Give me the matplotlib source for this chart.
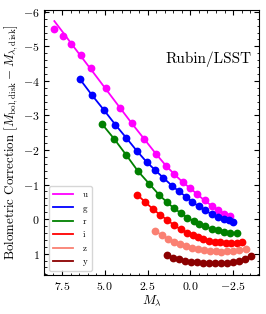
import numpy as np
import matplotlib
matplotlib.use("Agg")
import matplotlib.pyplot as plt
from matplotlib.ticker import MultipleLocator, AutoMinorLocator

plt.rcParams['font.family'] = 'serif'
plt.rcParams['font.serif'] = ['cmr10', 'DejaVu Serif']
plt.rcParams['mathtext.fontset'] = 'cm'
plt.rcParams['axes.formatter.use_mathtext'] = True
plt.rcParams['axes.unicode_minus'] = True

# Bolometric correction vs M_lambda for each Rubin/LSST band
u_mag = [7.95, 7.44, 6.96, 6.39, 5.79, 4.95, 4.11, 3.42, 2.70, 1.98, 1.43, 0.94, 0.45, 0.0,
         -0.40, -0.83, -1.26, -1.64, -1.99, -2.32]
u_bc = [-5.51, -5.30, -5.06, -4.75, -4.36, -3.78, -3.22, -2.78, -2.32, -1.87, -1.55, -1.30, -1.07,
        -0.89, -0.72, -0.54, -0.38, -0.25, -0.16, -0.09]
u_fit = [-5.73, -5.40, -5.08, -4.71, -4.32, -3.77, -3.22, -2.77, -2.32, -1.87, -1.55, -1.30, -1.07,
         -0.89, -0.72, -0.54, -0.38, -0.25, -0.16, -0.09]

g_mag = [6.47, 5.77, 5.04, 4.38, 3.76, 3.12, 2.55, 2.06, 1.57, 1.08, 0.66, 0.26, -0.12, -0.48,
         -0.87, -1.26, -1.62, -1.95, -2.24, -2.48]
g_bc = [-4.06, -3.60, -3.15, -2.73, -2.36, -1.97, -1.65, -1.42, -1.19, -0.97, -0.80, -0.65, -0.50,
        -0.37, -0.25, -0.14, -0.06, 0.00, 0.04, 0.08]

r_mag = [5.16, 4.45, 3.74, 3.05, 2.40, 1.82, 1.37, 0.97, 0.55, 0.17, -0.20, -0.53, -0.88, -1.24,
         -1.60, -1.96, -2.33, -2.70]
r_bc = [-2.75, -2.32, -1.85, -1.38, -1.02, -0.70, -0.49, -0.32, -0.17, -0.04, 0.06, 0.14, 0.21,
        0.28, 0.33, 0.37, 0.40, 0.40]

i_mag = [3.12, 2.65, 2.21, 1.76, 1.34, 0.94, 0.55, 0.20, -0.14, -0.45, -0.77, -1.10, -1.42, -1.74,
         -2.06, -2.38, -2.70, -3.02]
i_bc = [-0.71, -0.50, -0.30, -0.12, 0.03, 0.18, 0.30, 0.39, 0.46, 0.52, 0.57, 0.62, 0.65, 0.67,
        0.68, 0.69, 0.68, 0.65]

z_mag = [2.04, 1.65, 1.28, 0.93, 0.59, 0.24, -0.11, -0.46, -0.80, -1.14, -1.48, -1.82, -2.16,
         -2.50, -2.84, -3.28]
z_bc = [0.35, 0.47, 0.57, 0.66, 0.73, 0.79, 0.83, 0.87, 0.90, 0.92, 0.93, 0.94, 0.93, 0.92, 0.90,
        0.86]

y_mag = [1.37, 1.02, 0.67, 0.32, -0.03, -0.38, -0.73, -1.08, -1.43, -1.78, -2.13, -2.48, -2.83,
         -3.18, -3.56]
y_bc = [1.04, 1.12, 1.16, 1.20, 1.23, 1.25, 1.27, 1.28, 1.28, 1.28, 1.27, 1.25, 1.21, 1.15, 1.07]

bands = ['u', 'g', 'r', 'i', 'z', 'y']
colors = ['magenta', 'blue', 'green', 'red', 'salmon', 'darkred']
mags = [u_mag, g_mag, r_mag, i_mag, z_mag, y_mag]
bcs = [u_bc, g_bc, r_bc, i_bc, z_bc, y_bc]
fits = [u_fit, g_bc, r_bc, i_bc, z_bc, y_bc]

fig = plt.figure(figsize=(2.66, 3.14), dpi=100)
ax = fig.add_axes([0.167, 0.124, 0.807, 0.844])

for band, c, m, bc, fit in zip(bands, colors, mags, bcs, fits):
    ax.plot(m, fit, color=c, lw=1.3, label=band)
    ax.plot(m, bc, 'o', color=c, ms=5.6, mew=0)

ax.set_xlim(8.53, -4.02)
ax.set_ylim(1.62, -6.05)
ax.xaxis.set_major_locator(MultipleLocator(2.5))
ax.xaxis.set_minor_locator(AutoMinorLocator(5))
ax.yaxis.set_major_locator(MultipleLocator(1))
ax.yaxis.set_minor_locator(AutoMinorLocator(5))
ax.tick_params(which='both', direction='in', top=True, right=True, labelsize=8.5)
ax.tick_params(which='major', length=3.5, width=0.8)
ax.tick_params(which='minor', length=1.8, width=0.6)

ax.set_xlabel(r'$M_\lambda$', fontsize=9.5, labelpad=1)
ax.set_ylabel(r'Bolometric Correction $[M_{\rm bol,disk} - M_{\lambda,{\rm disk}}]$',
              fontsize=9.3, labelpad=2)
ax.text(0.965, 0.815, 'Rubin/LSST', transform=ax.transAxes, ha='right', va='center',
        fontsize=11)

ax.legend(loc='lower left', fontsize=6.5, handlelength=2.2, labelspacing=0.55,
          borderpad=0.5, handletextpad=1.0, frameon=True, fancybox=True)

fig.savefig('out.png', dpi=100)
